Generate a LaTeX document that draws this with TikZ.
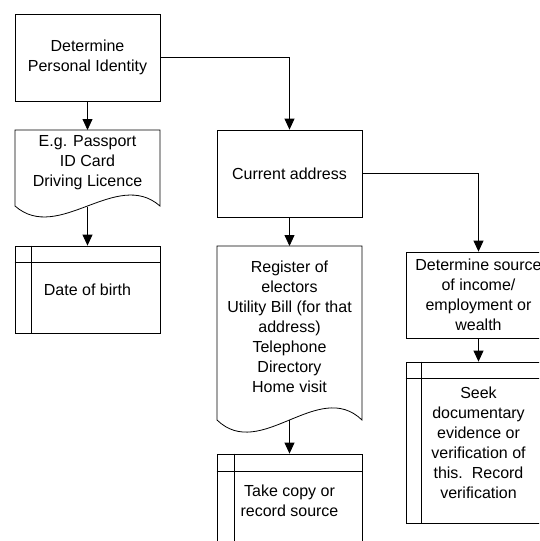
\documentclass[tikz,border=0pt]{standalone}
\usepackage{fontspec}
\setmainfont{Liberation Sans}
\usetikzlibrary{arrows.meta}
\tikzset{
  box/.style={draw, line width=0.8pt, minimum width=145pt, inner sep=0pt, align=center, font=\fontsize{16}{20}\selectfont},
  txt/.style={inner sep=0pt, align=center, font=\fontsize{16}{20}\selectfont},
  shp/.style={draw, line width=0.8pt},
  conn/.style={line width=0.8pt, -{Triangle[length=11pt,width=10pt]}},
}
\begin{document}
\begin{tikzpicture}[x=1pt,y=-1pt]
\useasboundingbox (0,0) rectangle (539,541);
\clip (0,0) rectangle (539,541);
% Determine personal identity
\node[box, minimum height=87pt] (pid) at (87.5,57.5) {Determine\\Personal Identity};
% Document 1
\draw[shp] (15,130) -- (160,130) -- (160,206) .. controls (116.5,168) and (58.5,244) .. (15,206) -- cycle;
\node[txt] (doc1) at (87.5,163) {E.g. Passport\\ID Card\\Driving Licence};
\coordinate (doc1b) at (87.5,207);
% Date of birth
\node[box, minimum height=87pt] (dob) at (87.5,289.5) {Date of birth};
\draw[shp] (dob.north west) ++(0,17) -- ++(145,0);
\draw[shp] (dob.north west) ++(17,0) -- ++(0,87);
% Current address
\node[box, minimum height=87pt] (addr) at (289.5,173.5) {Current address};
% Document 2
\draw[shp] (217,246) -- (362,246) -- (362,420) .. controls (318.5,378) and (260.5,462) .. (217,420) -- cycle;
\node[txt] (doc2) at (289.5,327) {Register of\\electors\\Utility Bill (for that\\address)\\Telephone\\Directory\\Home visit};
\coordinate (doc2b) at (289.5,420);
% Take copy
\node[box, minimum height=94pt] (copy) at (289.5,501) {Take copy or\\record source};
\draw[shp] (copy.north west) ++(0,18) -- ++(145,0);
\draw[shp] (copy.north west) ++(18,0) -- ++(0,94);
% Determine source
\node[box, minimum height=86pt] (src) at (478.5,295) {Determine source\\of income/\\employment or\\wealth};
% Seek
\node[box, minimum height=161pt] (seek) at (478.5,442.5) {Seek\\documentary\\evidence or\\verification of\\this.\ \ Record\\verification};
\draw[shp] (seek.north west) ++(0,17) -- ++(145,0);
\draw[shp] (seek.north west) ++(16,0) -- ++(0,161);
% connectors
\draw[conn] (pid.south) -- (87.5,130);
\draw[conn] (doc1b) -- (dob.north);
\draw[conn] (pid.east) -| (addr.north);
\draw[conn] (addr.south) -- (289.5,246);
\draw[conn] (doc2b) -- (copy.north);
\draw[conn] (addr.east) -| (src.north);
\draw[conn] (src.south) -- (seek.north);
\end{tikzpicture}
\end{document}
